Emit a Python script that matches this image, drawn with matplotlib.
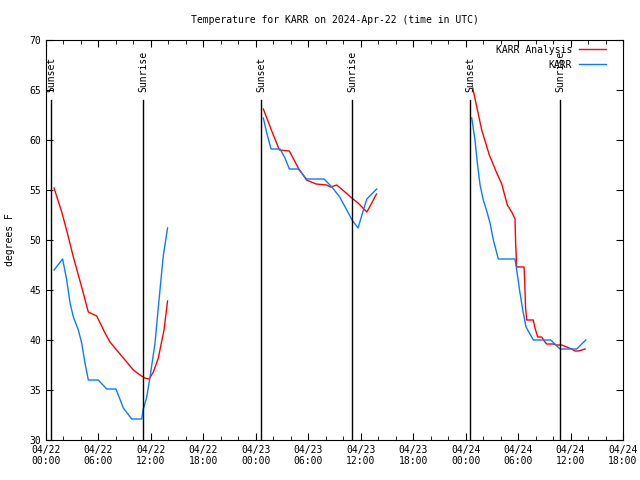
import matplotlib
matplotlib.use("Agg")
import matplotlib.pyplot as plt
import matplotlib.dates as mdates
import numpy as np
import pandas as pd

base = pd.Timestamp("2024-04-22 00:00")

# hours after 04/22 00:00 UTC, temperature in F
ana_hours = [0.92, 1.8, 2.44, 3.13, 4.08, 4.84, 5.8, 6.75, 7.32, 8.27, 9.23, 9.99, 10.75, 11.3, 11.8,
             12.28, 12.85, 13.1, 13.5, 13.9, np.nan,
             24.86, 25.43, 26.0, 26.7, 27.83, 28.86, 29.8, 30.9, 32.1, 32.56, 33.25, 34.2, 34.97,
             35.7, 36.7, 37.26, 37.8, np.nan,
             48.81, 49.84, 50.71, 51.56, 52.13, 52.31, 52.77, 53.27, 53.65, 53.72, 53.84, 54.68,
             54.75, 54.85, 54.99, 55.74, 55.9, 56.24, 56.7, 57.08, 57.27, 58.03, 58.4, 58.99,
             59.56, 60.13, 60.5, 60.9, 61.28, 61.66]
ana_temp = [55.2, 52.8, 50.7, 48.3, 45.3, 42.8, 42.4, 40.7, 39.8, 38.8, 37.8, 37.0, 36.5, 36.2, 36.1,
            36.8, 38.2, 39.3, 41.0, 43.9, np.nan,
            63.1, 61.8, 60.5, 59.0, 58.9, 57.2, 56.0, 55.6, 55.5, 55.3, 55.5, 54.8, 54.2,
            53.7, 52.8, 53.7, 54.6, np.nan,
            65.2, 61.0, 58.5, 56.7, 55.6, 55.0, 53.5, 52.8, 52.1, 49.7, 47.3, 47.3,
            46.0, 43.3, 42.0, 42.0, 41.3, 40.3, 40.3, 39.8, 39.6, 39.6, 39.5, 39.5,
            39.3, 39.1, 38.9, 38.9, 39.0, 39.1]

obs_hours = [0.92, 1.9, 2.37, 2.75, 3.13, 3.7, 4.08, 4.46, 4.84, 5.98, 6.94, 8.0, 8.85, 9.8, 10.95,
             11.1, 11.5, 11.9, 12.47, 12.85, 13.4, 13.9, np.nan,
             24.86, 25.25, 25.74, 26.77, 27.34, 27.83, 28.86, 29.8, 31.8, 32.7, 33.6, 34.4, 35.08,
             35.7, 36.2, 36.7, 37.26, 37.83, np.nan,
             48.7, 49.07, 49.34, 49.65, 50.02, 50.48, 50.79, 51.17, 51.74, 53.65, 53.84, 54.22,
             54.53, 54.91, 55.74, 57.73, 58.8, 60.7, 61.74]
obs_temp = [47.0, 48.1, 46.0, 43.7, 42.3, 41.0, 39.7, 37.7, 36.0, 36.0, 35.1, 35.1, 33.2, 32.1, 32.1,
            33.0, 34.2, 36.3, 39.7, 43.3, 48.3, 51.2, np.nan,
            62.2, 60.7, 59.1, 59.1, 58.2, 57.1, 57.1, 56.1, 56.1, 55.3, 54.3, 53.0, 51.9,
            51.2, 52.7, 54.1, 54.6, 55.1, np.nan,
            62.2, 60.0, 57.7, 55.5, 54.0, 52.7, 51.7, 50.0, 48.1, 48.1, 47.0, 44.7,
            43.0, 41.3, 40.0, 40.0, 39.1, 39.1, 40.0]

sun_hours = [0.57, 11.1, 24.6, 35.0, 48.55, 58.85]
sun_labels = ["Sunset", "Sunrise", "Sunset", "Sunrise", "Sunset", "Sunrise"]


def to_time(hours):
    return base + pd.to_timedelta(np.array(hours, dtype=float), unit="h")


plt.rcParams["font.family"] = ["DejaVu Sans Mono"]
plt.rcParams["font.size"] = 7

fig = plt.figure(figsize=(6.4, 4.8), dpi=100)
ax = fig.add_axes([46 / 640, 40 / 480, 577 / 640, 400 / 480])

ax.plot(to_time(ana_hours), ana_temp, color="#ff0000", lw=1, label="KARR Analysis")
ax.plot(to_time(obs_hours), obs_temp, color="#0a7cff", lw=1, label="KARR")

for h, lab in zip(sun_hours, sun_labels):
    t = to_time([h])[0]
    ax.plot([t, t], [30, 64], color="black", lw=1)
    ax.text(t, 64.8, lab, rotation=90, ha="center", va="bottom", fontsize=7)

ax.set_xlim(base, base + pd.Timedelta(hours=66))
ax.set_ylim(30, 70)
ax.set_yticks(np.arange(30, 71, 5))
ax.xaxis.set_major_locator(mdates.HourLocator(byhour=[0, 6, 12, 18]))
ax.xaxis.set_minor_locator(mdates.HourLocator(interval=2))
ax.xaxis.set_major_formatter(mdates.DateFormatter("%m/%d\n%H:%M"))
ax.tick_params(which="both", direction="in", top=True, right=True, labelsize=7)
ax.tick_params(which="major", length=5)
ax.tick_params(which="minor", length=3)
ax.set_ylabel("degrees F", fontsize=7, labelpad=10)
ax.set_title("Temperature for KARR on 2024-Apr-22 (time in UTC)", fontsize=7, pad=12)

ax.legend(loc="upper right", bbox_to_anchor=(1 - 12 / 577, 1.0), frameon=False,
          markerfirst=False, fontsize=7, handlelength=2.8, handletextpad=0.7,
          borderaxespad=0.1, labelspacing=0.5)

fig.savefig("out.png", dpi=100)
